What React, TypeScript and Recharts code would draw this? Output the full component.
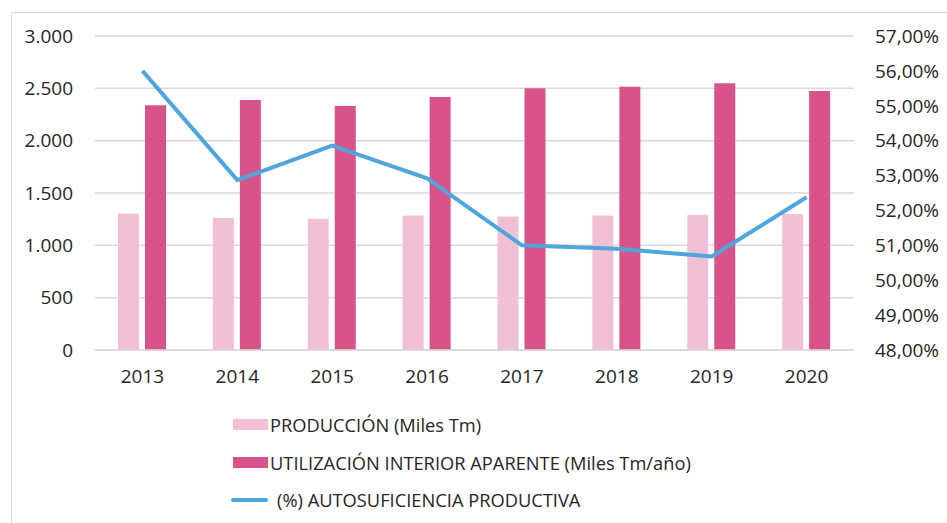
import { Bar, CartesianGrid, ComposedChart, Line, XAxis, YAxis } from "recharts";

const years = ["2013", "2014", "2015", "2016", "2017", "2018", "2019", "2020"];
const produccion = [1305, 1262, 1255, 1285, 1275, 1285, 1290, 1300];
const utilizacion = [2338, 2389, 2331, 2417, 2500, 2516, 2548, 2474];
const autosuficiencia = [56.0, 52.87, 53.86, 52.92, 51.0, 50.9, 50.68, 52.38];
const leftTicks = [0, 500, 1000, 1500, 2000, 2500, 3000];
const rightTicks = [48, 49, 50, 51, 52, 53, 54, 55, 56, 57];

const FONT = '"Open Sans", "Noto Sans", sans-serif';
const PROD_COLOR = "#f2c0d6";
const UTIL_COLOR = "#d9538b";
const LINE_COLOR = "#4ea6dc";

const data = years.map((y, i) => ({
  year: y,
  prod: produccion[i],
  util: utilizacion[i],
  pct: autosuficiencia[i],
}));

const fmtThousands = (v: number) =>
  v === 0 ? "0" : v.toLocaleString("de-DE", { maximumFractionDigits: 0 });
const fmtPct = (v: number) => `${v.toFixed(2).replace(".", ",")}%`;

const tickStyle = { fontSize: 19, fill: "#262626", fontFamily: FONT };

const legendItems = [
  { label: "PRODUCCIÓN (Miles Tm)", color: PROD_COLOR, kind: "bar" },
  { label: "UTILIZACIÓN INTERIOR APARENTE (Miles Tm/año)", color: UTIL_COLOR, kind: "bar" },
  { label: "(%) AUTOSUFICIENCIA PRODUCTIVA", color: LINE_COLOR, kind: "line" },
];

export default function App() {
  return (
    <div style={{ position: "absolute", left: 0, top: 0, width: 947, height: 523, overflow: "hidden", background: "#fff" }}>
      <div
        style={{
          position: "absolute",
          left: 11,
          top: 12,
          width: 950,
          height: 530,
          border: "1px solid #d9d9d9",
          boxSizing: "border-box",
        }}
      />
      <ComposedChart
        width={947}
        height={523}
        data={data}
        margin={{ top: 36, right: 0, bottom: 133, left: 0 }}
        barGap={6}
        barCategoryGap="25%"
        style={{ position: "absolute", left: 0, top: 0 }}
      >
        <CartesianGrid vertical={false} stroke="#d9d9d9" strokeWidth={1.5} yAxisId="left" />
        <XAxis
          dataKey="year"
          height={40}
          tickLine={false}
          axisLine={{ stroke: "#d9d9d9", strokeWidth: 1.5 }}
          tickSize={0}
          tickMargin={20}
          tick={tickStyle}
          interval={0}
        />
        <YAxis
          yAxisId="left"
          width={95}
          domain={[0, 3000]}
          ticks={leftTicks}
          tickFormatter={fmtThousands}
          tickLine={false}
          axisLine={false}
          tickSize={0}
          tickMargin={22}
          tick={tickStyle}
        />
        <YAxis
          yAxisId="right"
          orientation="right"
          width={93}
          domain={[48, 57]}
          ticks={rightTicks}
          tickFormatter={fmtPct}
          tickLine={false}
          axisLine={false}
          tickSize={0}
          tickMargin={21}
          tick={tickStyle}
        />
        <Bar yAxisId="left" dataKey="prod" fill={PROD_COLOR} barSize={21} isAnimationActive={false} />
        <Bar yAxisId="left" dataKey="util" fill={UTIL_COLOR} barSize={21} isAnimationActive={false} />
        <Line
          yAxisId="right"
          dataKey="pct"
          type="linear"
          stroke={LINE_COLOR}
          strokeWidth={4}
          dot={false}
          isAnimationActive={false}
        />
      </ComposedChart>
      <div
        style={{
          position: "absolute",
          left: 233,
          top: 406,
          fontFamily: FONT,
          fontSize: 18.3,
          color: "#262626",
        }}
      >
        {legendItems.map((item) => (
          <div key={item.label} style={{ display: "flex", alignItems: "center", height: 37.5 }}>
            <span
              style={{
                display: "inline-block",
                width: item.kind === "bar" ? 35 : 37,
                height: item.kind === "bar" ? 11 : 4,
                borderRadius: item.kind === "bar" ? 0 : 2,
                background: item.color,
                marginLeft: item.kind === "bar" ? 0 : -2,
                marginRight: item.kind === "bar" ? 2 : 9,
              }}
            />
            <span>{item.label}</span>
          </div>
        ))}
      </div>
    </div>
  );
}
